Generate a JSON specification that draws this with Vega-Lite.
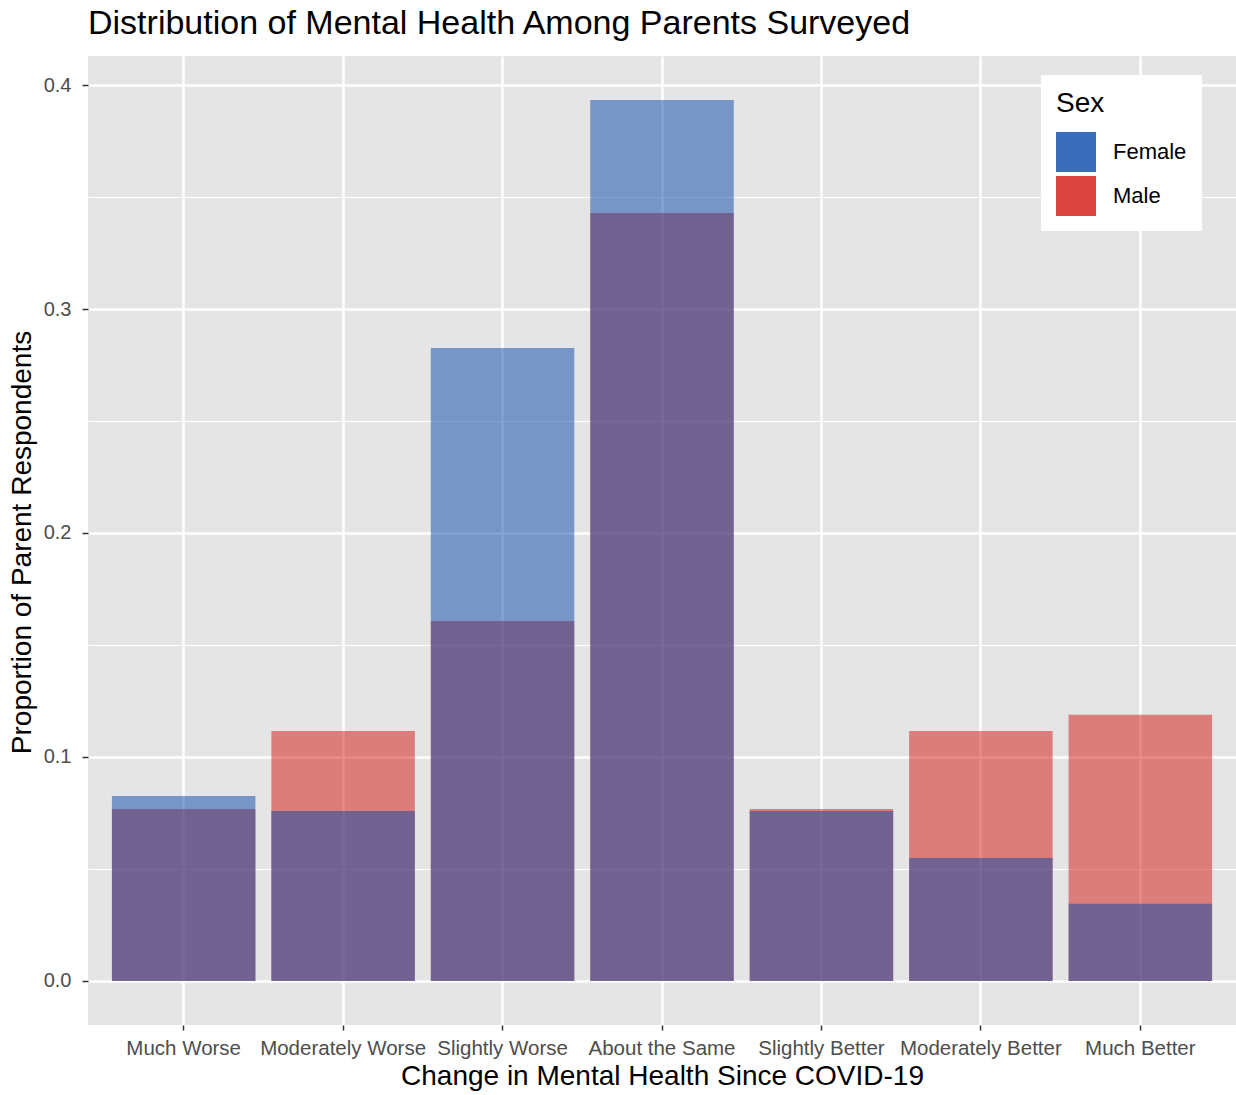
{
  "$schema": "https://vega.github.io/schema/vega-lite/v6.json",
  "width": 1148,
  "height": 969,
  "autosize": {"type": "none"},
  "padding": {"left": 88, "top": 56, "right": 0, "bottom": 70},
  "background": "white",
  "title": {
    "text": "Distribution of Mental Health Among Parents Surveyed",
    "anchor": "start",
    "frame": "group",
    "font": "Liberation Sans",
    "fontSize": 34,
    "fontWeight": "normal",
    "color": "black",
    "baseline": "alphabetic",
    "offset": 14,
    "dy": 26
  },
  "config": {
    "view": {"fill": "#e5e5e5", "stroke": null},
    "font": "Liberation Sans"
  },
  "data": {
    "values": [
      {"change": "Much Worse", "sex": "Male", "prop": 0.0768},
      {"change": "Moderately Worse", "sex": "Male", "prop": 0.1116},
      {"change": "Slightly Worse", "sex": "Male", "prop": 0.1607},
      {"change": "About the Same", "sex": "Male", "prop": 0.3429},
      {"change": "Slightly Better", "sex": "Male", "prop": 0.0768},
      {"change": "Moderately Better", "sex": "Male", "prop": 0.1116},
      {"change": "Much Better", "sex": "Male", "prop": 0.1188},
      {"change": "Much Worse", "sex": "Female", "prop": 0.0826},
      {"change": "Moderately Worse", "sex": "Female", "prop": 0.0759},
      {"change": "Slightly Worse", "sex": "Female", "prop": 0.2826},
      {"change": "About the Same", "sex": "Female", "prop": 0.3933},
      {"change": "Slightly Better", "sex": "Female", "prop": 0.0759},
      {"change": "Moderately Better", "sex": "Female", "prop": 0.0549},
      {"change": "Much Better", "sex": "Female", "prop": 0.0344}
    ]
  },
  "mark": {"type": "bar", "opacity": 0.5},
  "encoding": {
    "x": {
      "field": "change",
      "type": "nominal",
      "sort": ["Much Worse", "Moderately Worse", "Slightly Worse", "About the Same", "Slightly Better", "Moderately Better", "Much Better"],
      "scale": {"paddingInner": 0.1, "paddingOuter": 0.15},
      "axis": {
        "title": "Change in Mental Health Since COVID-19",
        "titleFont": "Liberation Sans",
        "titleFontSize": 28,
        "titleFontWeight": "normal",
        "titleColor": "black",
        "titleBaseline": "alphabetic",
        "titleY": 59,
        "labelAngle": 0,
        "labelFontSize": 20.5,
        "labelColor": "#4d4d4d",
        "labelBaseline": "alphabetic",
        "labelPadding": 24,
        "tickSize": 5,
        "tickWidth": 1.5,
        "tickColor": "#333333",
        "domain": false,
        "grid": true,
        "gridColor": "white",
        "gridWidth": 2.5,
        "bandPosition": 0.5
      }
    },
    "y": {
      "field": "prop",
      "type": "quantitative",
      "scale": {"domain": [-0.0197, 0.413], "zero": false, "nice": false},
      "axis": {
        "title": "Proportion of Parent Respondents",
        "titleFont": "Liberation Sans",
        "titleFontSize": 28,
        "titleFontWeight": "normal",
        "titleColor": "black",
        "titleBaseline": "alphabetic",
        "titleX": -58,
        "titleY": 486,
        "values": [0, 0.05, 0.1, 0.15, 0.2, 0.25, 0.3, 0.35, 0.4],
        "labelExpr": "round(datum.value*100) % 10 == 0 ? format(datum.value, '.1f') : ''",
        "labelFontSize": 20,
        "labelColor": "#4d4d4d",
        "labelPadding": 11,
        "tickSize": 6,
        "tickWidth": 1.5,
        "tickColor": "#333333",
        "tickOpacity": {"condition": {"test": "round(datum.value*100) % 10 != 0", "value": 0}, "value": 1},
        "domain": false,
        "grid": true,
        "gridColor": "white",
        "gridWidth": {"condition": {"test": "round(datum.value*100) % 10 != 0", "value": 1.2}, "value": 2.5}
      }
    },
    "y2": {"datum": 0},
    "color": {
      "field": "sex",
      "type": "nominal",
      "sort": ["Female", "Male"],
      "scale": {"domain": ["Female", "Male"], "range": ["#0947a9", "#d11511"]},
      "legend": {
        "title": "Sex",
        "orient": "none",
        "legendX": 953,
        "legendY": 19,
        "padding": 15,
        "fillColor": "white",
        "titleFontSize": 28,
        "titleFontWeight": "normal",
        "titleColor": "black",
        "titlePadding": 14,
        "labelFontSize": 22,
        "labelColor": "black",
        "labelOffset": 17,
        "symbolType": "square",
        "symbolSize": 1600,
        "symbolOpacity": 0.8,
        "symbolStrokeWidth": 0,
        "rowPadding": 4
      }
    }
  }
}
